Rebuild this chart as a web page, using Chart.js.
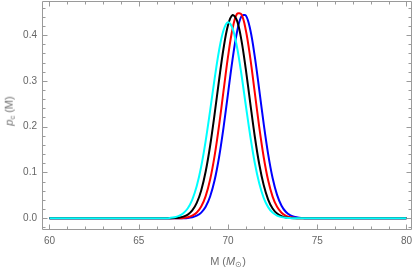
<!DOCTYPE html>
<html>
<head>
<meta charset="utf-8">
<script src="https://cdn.jsdelivr.net/npm/chart.js@4"></script>
<style>
  html, body { margin: 0; padding: 0; background: #fff; }
  #wrap { position: relative; width: 415px; height: 274px; }
  canvas { position: absolute; left: 0; top: 0; }
  .ttl { position: absolute; font-family: "Liberation Sans", Arial, sans-serif; font-size: 11px; font-weight: normal; color: #707070; white-space: nowrap; line-height: 1; }
  .ttl sub { font-size: 7.5px; vertical-align: -2px; }
  #ytitle { left: 10px; top: 111px; transform: translate(-50%, -50%) rotate(-90deg); }
  #xtitle { left: 228px; top: 262px; transform: translate(-50%, -50%); }
</style>
</head>
<body>
<div id="wrap">
  <canvas id="c" width="415" height="274"></canvas>
  <div class="ttl" id="ytitle"><i>p</i><sub>c</sub> (M)</div>
  <div class="ttl" id="xtitle">M (<i>M</i><sub>⊙</sub>)</div>
</div>
<script>
// Sample positions (M, solar masses)
const massGrid = [60, 66, 66.25, 66.5, 66.75, 67, 67.25, 67.5, 67.75, 68, 68.25, 68.5, 68.75,
  69, 69.25, 69.5, 69.75, 70, 70.25, 70.5, 70.75, 71, 71.25, 71.5, 71.75, 72, 72.25, 72.5, 72.75,
  73, 73.25, 73.5, 73.75, 74, 74.25, 74.5, 74.75, 75, 80];

// Series values
const cyanSeries = [0, 0, 0.0001, 0.0003, 0.0009, 0.0022, 0.0052, 0.0111, 0.0220, 0.0409, 0.0705, 0.1132, 0.1691,
  0.2351, 0.3042, 0.3663, 0.4104, 0.4279, 0.4152, 0.3748, 0.3149, 0.2462, 0.1791, 0.1213, 0.0764, 0.0448, 0.0244, 0.0124, 0.0059,
  0.0026, 0.0011, 0.0004, 0.0001, 0, 0, 0, 0, 0, 0];
const blackSeries = [0, 0, 0, 0.0001, 0.0002, 0.0005, 0.0014, 0.0036, 0.0081, 0.0172, 0.0336, 0.0609, 0.1020,
  0.1583, 0.2271, 0.3015, 0.3706, 0.4214, 0.4436, 0.4320, 0.3894, 0.3248, 0.2507, 0.1791, 0.1184, 0.0725, 0.0410, 0.0215, 0.0104,
  0.0047, 0.0019, 0.0007, 0.0003, 0.0001, 0, 0, 0, 0, 0];
const redSeries = [0, 0, 0, 0, 0, 0.0001, 0.0003, 0.0009, 0.0024, 0.0057, 0.0126, 0.0257, 0.0485,
  0.0846, 0.1362, 0.2024, 0.2779, 0.3523, 0.4124, 0.4459, 0.4452, 0.4104, 0.3495, 0.2748, 0.1995, 0.1338, 0.0829, 0.0474, 0.0250,
  0.0122, 0.0055, 0.0023, 0.0009, 0.0003, 0.0001, 0, 0, 0, 0];
const blueSeries = [0, 0, 0, 0, 0, 0, 0.0001, 0.0003, 0.0009, 0.0024, 0.0057, 0.0125, 0.0254,
  0.0477, 0.0829, 0.1332, 0.1978, 0.2718, 0.3452, 0.4055, 0.4406, 0.4427, 0.4113, 0.3534, 0.2808, 0.2064, 0.1402, 0.0881, 0.0512,
  0.0275, 0.0137, 0.0063, 0.0027, 0.0011, 0.0004, 0.0001, 0, 0, 0];

// Tick labels
const xTicks = [60, 65, 70, 75, 80];
const yTicks = [0.0, 0.1, 0.2, 0.3, 0.4];
const xMinorStep = 1;
const yMinorStep = 0.02;

const toPts = arr => massGrid.map((m, i) => ({ x: m, y: arr[i] }));

const frameColor = '#9a9a9a';
const labelColor = '#666666';

const framePlugin = {
  id: 'frameTicks',
  afterDraw(chart) {
    const { ctx, chartArea: a, scales: { x, y } } = chart;
    ctx.save();
    ctx.strokeStyle = frameColor;
    ctx.lineWidth = 1;
    ctx.beginPath();
    ctx.rect(a.left + 0.5, a.top + 0.5, a.right - a.left - 1, a.bottom - a.top - 1);
    ctx.stroke();
    ctx.beginPath();
    // x ticks (bottom and top, inward)
    for (let v = 60; v <= 80 + 1e-9; v += xMinorStep) {
      const px = Math.round(x.getPixelForValue(v)) + 0.5;
      const major = xTicks.some(t => Math.abs(t - v) < 1e-6);
      const len = major ? 4.5 : 2.5;
      ctx.moveTo(px, a.bottom - 1); ctx.lineTo(px, a.bottom - 1 - len);
      ctx.moveTo(px, a.top + 1); ctx.lineTo(px, a.top + 1 + len);
    }
    // y ticks (left and right, inward)
    for (let k = -1; k <= 23; k++) {
      const v = k * yMinorStep;
      if (v < y.min || v > y.max) continue;
      const py = Math.round(y.getPixelForValue(v)) + 0.5;
      const major = yTicks.some(t => Math.abs(t - v) < 1e-6);
      const len = major ? 4.5 : 2.5;
      ctx.moveTo(a.left + 1, py); ctx.lineTo(a.left + 1 + len, py);
      ctx.moveTo(a.right - 1, py); ctx.lineTo(a.right - 1 - len, py);
    }
    ctx.stroke();
    ctx.restore();
  }
};

const mk = (data, color) => ({
  data: toPts(data),
  borderColor: color,
  borderWidth: 2,
  pointRadius: 0,
  tension: 0.35,
  fill: false
});

new Chart(document.getElementById('c'), {
  type: 'line',
  data: {
    datasets: [
      mk(cyanSeries, '#00ffff'),
      mk(blackSeries, '#000000'),
      mk(redSeries, '#ff0000'),
      mk(blueSeries, '#0000ff')
    ]
  },
  options: {
    responsive: false,
    animation: false,
    events: [],
    layout: { padding: { top: 1, right: 3, left: 0, bottom: 0 } },
    plugins: { legend: { display: false }, tooltip: { enabled: false } },
    scales: {
      x: {
        type: 'linear',
        min: 59.58,
        max: 80.31,
        grid: { display: false, drawTicks: false },
        border: { display: false },
        afterBuildTicks: s => { s.ticks = xTicks.map(v => ({ value: v })); },
        afterFit: s => { s.height = 44; s.paddingLeft = 0; s.paddingRight = 0; },
        ticks: {
          autoSkip: false,
          maxRotation: 0,
          padding: 5,
          color: labelColor,
          font: { family: '"Liberation Sans", Arial, sans-serif', size: 10 },
          callback: v => String(v)
        }
      },
      y: {
        type: 'linear',
        min: -0.0255,
        max: 0.4742,
        grid: { display: false, drawTicks: false },
        border: { display: false },
        afterBuildTicks: s => { s.ticks = yTicks.map(v => ({ value: v })); },
        afterFit: s => { s.width = 42; s.paddingTop = 0; s.paddingBottom = 0; },
        ticks: {
          autoSkip: false,
          padding: 5,
          color: labelColor,
          font: { family: '"Liberation Sans", Arial, sans-serif', size: 10 },
          callback: v => Number(v).toFixed(1)
        }
      }
    }
  },
  plugins: [framePlugin]
});
</script>
</body>
</html>
